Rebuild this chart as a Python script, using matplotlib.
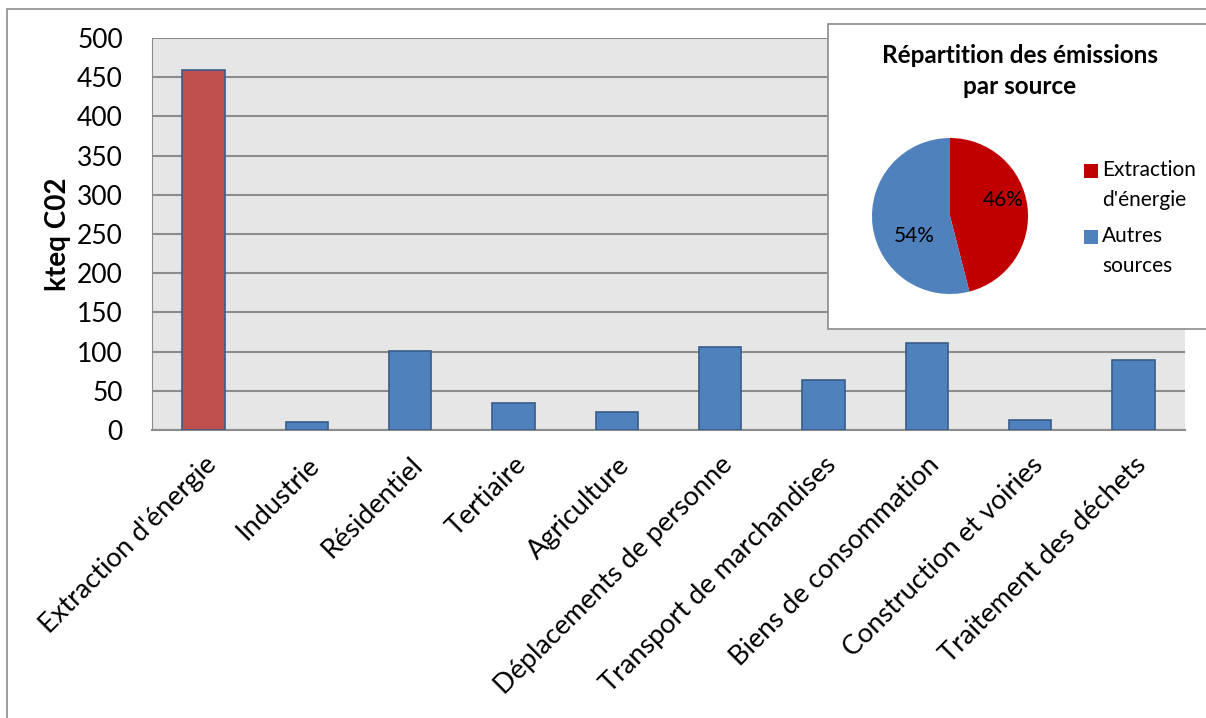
import numpy as np
import matplotlib.pyplot as plt
from matplotlib.patches import Rectangle

plt.rcParams['font.family'] = ['Lato', 'DejaVu Sans']

categories = ["Extraction d'énergie", "Industrie", "Résidentiel", "Tertiaire",
              "Agriculture", "Déplacements de personne",
              "Transport de marchandises", "Biens de consommation",
              "Construction et voiries", "Traitement des déchets"]
values = [459, 10.5, 101, 34, 22.5, 106, 64, 110.5, 12.5, 89]

pie_labels = ["Extraction\nd'énergie", "Autres\nsources"]
pie_shares = [46, 54]
pie_colors = ['#C00000', '#4F81BD']

W, H = 1206, 718
fig = plt.figure(figsize=(W / 100, H / 100), dpi=100)

# outer chart frame
fig.patches.append(Rectangle((7 / W, -0.1), 1.1, 1 - 9 / H + 0.1,
                             transform=fig.transFigure, fill=False,
                             edgecolor='#8C8C8C', linewidth=1.2, zorder=0))

ax = fig.add_axes([152 / W, 1 - 430 / H, (1185 - 152) / W, 392 / H])
ax.set_facecolor('#E6E6E6')
x = np.arange(len(categories))
colors = ['#C0504D'] + ['#4F81BD'] * (len(categories) - 1)
ax.bar(x, values, width=0.41, color=colors, edgecolor='#385D8A', linewidth=1.2,
       zorder=3)
ax.set_xlim(-0.5, len(categories) - 0.5)
ax.set_ylim(0, 500)
ax.set_yticks(np.arange(0, 501, 50))
ax.yaxis.grid(True, color='#8C8C8C', linewidth=1.5, zorder=0)
ax.set_xticks(x)
ax.set_xticklabels(categories, rotation=45, ha='right', rotation_mode='anchor',
                   fontsize=19.5)
ax.tick_params(axis='y', labelsize=19, length=0, pad=21)
ax.tick_params(axis='x', length=0, pad=16)
for side in ['top', 'right']:
    ax.spines[side].set_visible(False)
ax.spines['left'].set_color('#8C8C8C')
ax.spines['bottom'].set_color('#8C8C8C')
ax.spines['bottom'].set_linewidth(1.5)
ax.set_ylabel('kteq C02', fontsize=20, fontweight='bold', labelpad=4)

# inset box with the pie chart
fig.patches.append(Rectangle((828 / W, 1 - 329 / H), 0.4, 305 / H,
                             transform=fig.transFigure, facecolor='white',
                             edgecolor='#8C8C8C', linewidth=1.2, zorder=1))
fig.text(1020 / W, 1 - 71 / H, 'Répartition des émissions\npar source',
         ha='center', va='center', multialignment='center', fontsize=17.5,
         fontweight='bold', linespacing=1.4, zorder=5)

pax = fig.add_axes([872 / W, 1 - 294 / H, 156 / W, 156 / H], zorder=5)
wedges, texts, autotexts = pax.pie(pie_shares, colors=pie_colors,
                                   startangle=90, counterclock=False,
                                   autopct='%d%%', textprops={'fontsize': 15})
# label placement as in the spreadsheet export
autotexts[0].set_position((0.68, 0.2))
autotexts[1].set_position((-0.46, -0.26))
pax.set_xlim(-1, 1)
pax.set_ylim(-1, 1)
pax.set_aspect('equal')

# legend of the pie
for i, (lab, col) in enumerate(zip(pie_labels, pie_colors)):
    yc = 171 + i * 66
    fig.patches.append(Rectangle((1084 / W, 1 - (yc + 7) / H), 14 / W, 14 / H,
                                 transform=fig.transFigure, facecolor=col,
                                 edgecolor='none', zorder=5))
    fig.text(1102 / W, 1 - (yc - 11) / H, lab, ha='left', va='top',
             fontsize=15, linespacing=1.6, zorder=5)

fig.savefig('out.png', dpi=100)
